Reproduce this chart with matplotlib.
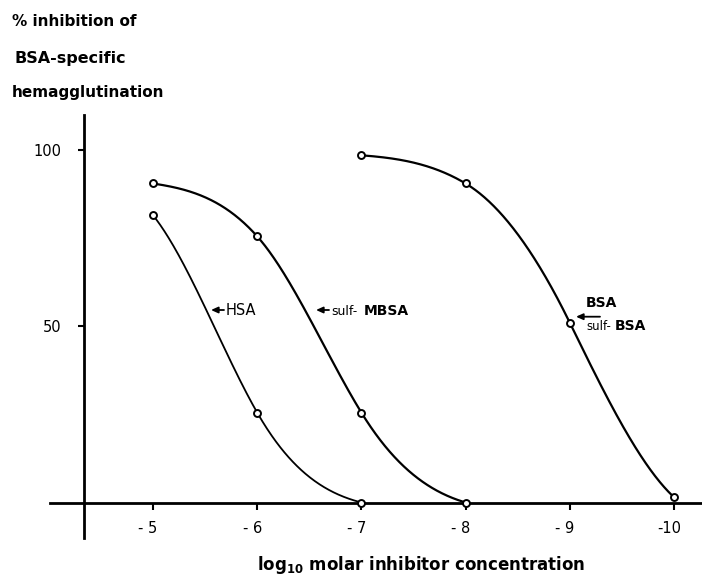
import numpy as np
import matplotlib
matplotlib.use("Agg")
import matplotlib.pyplot as plt
from matplotlib.transforms import ScaledTranslation

# ---------------- data ----------------
log_conc_hsa = [-5, -6, -7]
inhib_hsa = [81.5, 25.5, 0.0]

log_conc_mbsa = [-5, -6, -7, -8]
inhib_mbsa = [90.5, 75.5, 25.5, 0.0]

log_conc_bsa = [-7, -8, -9, -10]
inhib_bsa = [98.5, 90.5, 51.0, 1.5]

x_ticks = [-5, -6, -7, -8, -9, -10]
x_tick_labels = ["- 5", "- 6", "- 7", "- 8", "- 9", "-10"]
y_ticks = [50, 100]
y_tick_labels = ["50", "100"]

plt.rcParams['font.family'] = ['DejaVu Sans']
plt.rcParams['mathtext.fontset'] = 'dejavusans'


def smooth_curve(xs, ys, n=200):
    """Smooth sigmoid-shaped curve passing through the data points
    (cubic Hermite with slopes from a least-squares logistic fit)."""
    u = -np.asarray(xs, float)
    y = np.asarray(ys, float)
    ks = np.linspace(0.3, 8, 155)[:, None, None]
    cs = np.linspace(u.min() - 1, u.max() + 1, 401)[None, :, None]
    s = 1.0 / (1.0 + np.exp(ks * (u[None, None, :] - cs)))
    lam = 1e-3
    a11 = ((1 - s) ** 2).sum(-1) + lam
    a12 = ((1 - s) * s).sum(-1)
    a22 = (s ** 2).sum(-1) + lam
    r1 = ((1 - s) * y).sum(-1)
    r2 = (s * y).sum(-1) + lam * 100
    det = a11 * a22 - a12 ** 2
    b = (a22 * r1 - a12 * r2) / det
    t = (a11 * r2 - a12 * r1) / det
    pred = b[..., None] + (t - b)[..., None] * s
    err = ((pred - y) ** 2).sum(-1) + lam * ((t - 100) ** 2 + b ** 2)
    i, j = np.unravel_index(np.argmin(err), err.shape)
    k = ks[i, 0, 0]
    c = cs[0, j, 0]
    bb = b[i, j]
    tt = t[i, j]
    si = 1.0 / (1.0 + np.exp(k * (u - c)))
    m = -(tt - bb) * k * si * (1 - si)
    uu, yy = [], []
    tg = np.linspace(0, 1, n)
    h00 = 2 * tg ** 3 - 3 * tg ** 2 + 1
    h10 = tg ** 3 - 2 * tg ** 2 + tg
    h01 = -2 * tg ** 3 + 3 * tg ** 2
    h11 = tg ** 3 - tg ** 2
    for a in range(len(u) - 1):
        h = u[a + 1] - u[a]
        yy.append(h00 * y[a] + h10 * h * m[a] + h01 * y[a + 1] + h11 * h * m[a + 1])
        uu.append(u[a] + h * tg)
    return -np.concatenate(uu), np.concatenate(yy)


W, H = 702, 583
fig = plt.figure(figsize=(W / 100, H / 100), dpi=100)
ax = fig.add_axes([0, 0, 1, 1])

# pixel -> data helpers (layout only)
X5, XU = 153.0, 104.2
Y0, YU = 502.5, 3.525


def xd(px):
    return -(5 + (px - X5) / XU)


def yd(py):
    return (Y0 - py) / YU


ax.set_xlim(xd(0), xd(W))
ax.set_ylim(yd(H), yd(0))

# curves
for xs, ys, lw in [(log_conc_hsa, inhib_hsa, 1.3),
                   (log_conc_mbsa, inhib_mbsa, 1.6),
                   (log_conc_bsa, inhib_bsa, 1.6)]:
    cx, cy = smooth_curve(xs, ys)
    ax.plot(cx, cy, color='black', lw=lw, zorder=2, solid_capstyle='round')
    ax.plot(xs, ys, linestyle='none', marker='o', markersize=5,
            markerfacecolor='white', markeredgecolor='black',
            markeredgewidth=1.4, zorder=3, clip_on=False)

# axes
for sp in ['top', 'right']:
    ax.spines[sp].set_visible(False)
ax.spines['left'].set_position(('data', xd(84)))
ax.spines['left'].set_bounds(yd(538), yd(115))
ax.spines['left'].set_linewidth(2.0)
ax.spines['bottom'].set_position(('data', 0))
ax.spines['bottom'].set_bounds(xd(W + 5), xd(50))
ax.spines['bottom'].set_linewidth(2.0)

ax.set_xticks(x_ticks)
ax.set_xticklabels(x_tick_labels)
ax.set_yticks(y_ticks)
ax.set_yticklabels(y_tick_labels)
ax.tick_params(axis='x', direction='out', length=5, width=1.5, pad=8,
               labelsize=10.5)
ax.tick_params(axis='y', direction='out', length=4, width=1.5, pad=12,
               labelsize=10.5)
for lab in ax.get_xticklabels():
    lab.set_transform(lab.get_transform() +
                      ScaledTranslation(-0.05, 0, fig.dpi_scale_trans))

# y-axis title (three lines, top-left)
fig.text(12 / W, 1 - 26 / H, "% inhibition of", fontsize=11,
         fontweight='bold', va='baseline', ha='left')
fig.text(15 / W, 1 - 63.5 / H, "BSA-specific", fontsize=11.5,
         fontweight='bold', va='baseline', ha='left')
fig.text(12 / W, 1 - 97 / H, "hemagglutination", fontsize=11,
         fontweight='bold', va='baseline', ha='left')

# x-axis title
fig.text(257 / W, 1 - 570 / H,
         r"log$_{\mathbf{10}}$ molar inhibitor concentration",
         fontsize=12, fontweight='bold', va='baseline', ha='left')


def arrow(x0, x1, y):
    ax.annotate("", xy=(xd(x1), yd(y)), xytext=(xd(x0), yd(y)),
                arrowprops=dict(arrowstyle='-|>,head_length=0.4,head_width=0.18',
                                color='black', lw=1.3, shrinkA=0, shrinkB=0))


# curve labels
arrow(224, 211, 310)
ax.text(xd(226), yd(315.5), "HSA", fontsize=10.5, va='baseline', ha='left')

arrow(329, 316, 310)
ax.text(xd(331), yd(315.5), "sulf-", fontsize=9, va='baseline', ha='left')
ax.text(xd(364), yd(315.5), "MBSA", fontsize=10, fontweight='bold',
        va='baseline', ha='left')

ax.text(xd(586), yd(307), "BSA", fontsize=10, fontweight='bold',
        va='baseline', ha='left')
arrow(600, 576, 316.7)
ax.text(xd(586), yd(330), "sulf-", fontsize=8.5, va='baseline', ha='left')
ax.text(xd(615), yd(330), "BSA", fontsize=10, fontweight='bold',
        va='baseline', ha='left')

fig.savefig("out.png", dpi=100)
